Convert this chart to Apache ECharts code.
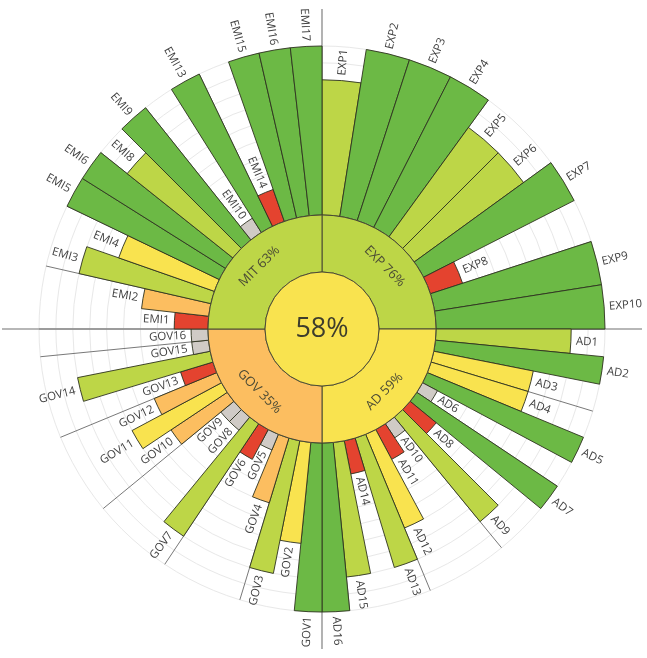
<!DOCTYPE html>
<html>
<head>
<meta charset="utf-8">
<script src="https://cdn.jsdelivr.net/npm/echarts@6/dist/echarts.min.js"></script>
<style>
html, body { margin: 0; padding: 0; background: #fff; }
#chart { width: 647px; height: 658px; }
</style>
</head>
<body>
<div id="chart"></div>
<script>
// scores per indicator, grouped by quadrant (clockwise from the top)
var expNames = ['EXP1', 'EXP2', 'EXP3', 'EXP4', 'EXP5', 'EXP6', 'EXP7', 'EXP8', 'EXP9', 'EXP10'];
var expValues = [80, 100, 100, 100, 80, 80, 100, 20, 100, 100];

var adNames = ['AD1', 'AD2', 'AD3', 'AD4', 'AD5', 'AD6', 'AD7', 'AD8', 'AD9', 'AD10', 'AD11', 'AD12', 'AD13', 'AD14', 'AD15', 'AD16'];
var adValues = [80, 100, 60, 60, 100, 10, 100, 20, 80, 10, 20, 60, 80, 20, 80, 100];

var govNames = ['GOV1', 'GOV2', 'GOV3', 'GOV4', 'GOV5', 'GOV6', 'GOV7', 'GOV8', 'GOV9', 'GOV10', 'GOV11', 'GOV12', 'GOV13', 'GOV14', 'GOV15', 'GOV16'];
var govValues = [100, 60, 80, 40, 10, 20, 80, 10, 10, 40, 60, 40, 20, 80, 10, 10];

var emiNames = ['EMI1', 'EMI2', 'EMI3', 'EMI4', 'EMI5', 'EMI6', 'EMI8', 'EMI9', 'EMI10', 'EMI13', 'EMI14', 'EMI15', 'EMI16', 'EMI17'];
var emiValues = [20, 40, 80, 60, 100, 100, 80, 100, 10, 100, 20, 100, 100, 100];

var quadNames = ['EXP', 'AD', 'GOV', 'MIT'];
var quadScores = [76, 59, 35, 63];
var totalScore = 58;

// colour per score level
var levelValues = [100, 80, 60, 40, 20, 10];
var levelColors = ['#6cb945', '#bdd647', '#f9e34f', '#fcbe60', '#e4432f', '#d0cbc6'];
var quadColors = ['#bdd647', '#f9e34f', '#fcbe60', '#bdd647'];

var CX = 322, CY = 329;
var textColor = '#3f3f3f';
var fontName = '"Open Sans", "Noto Sans", sans-serif';

function levelColor(v) {
    var i = levelValues.indexOf(v);
    return i < 0 ? '#ccc' : levelColors[i];
}

var groups = [
    { names: expNames, values: expValues, start: 90 },
    { names: adNames, values: adValues, start: 0 },
    { names: govNames, values: govValues, start: 270 },
    { names: emiNames, values: emiValues, start: 180 }
];

var polar = [], angleAxis = [], radiusAxis = [], series = [];

groups.forEach(function (g, i) {
    polar.push({ center: [CX, CY], radius: [114, 283] });
    angleAxis.push({
        polarIndex: i,
        type: 'category',
        data: g.names,
        startAngle: g.start,
        endAngle: g.start - 90,
        clockwise: true,
        boundaryGap: true,
        axisLine: { show: false },
        axisTick: { show: false },
        axisLabel: { show: false },
        splitLine: { show: true, lineStyle: { color: '#555', width: 0.8 } }
    });
    radiusAxis.push({
        polarIndex: i,
        type: 'value',
        min: 0,
        max: 100,
        interval: 10,
        axisLine: { show: false },
        axisTick: { show: false },
        axisLabel: { show: false },
        splitLine: { show: true, lineStyle: { color: '#e8e8e8', width: 1 } }
    });
    series.push({
        type: 'bar',
        coordinateSystem: 'polar',
        polarIndex: i,
        data: g.values,
        barCategoryGap: '0%',
        silent: true,
        itemStyle: {
            color: function (p) { return levelColor(p.value); },
            borderColor: '#2f3320',
            borderWidth: 0.9
        }
    });
    series.push({
        type: 'custom',
        coordinateSystem: 'polar',
        polarIndex: i,
        silent: true,
        z: 5,
        data: g.values.map(function (v, k) { return [v, k]; }),
        renderItem: function (params, api) {
            var cs = params.coordSys;
            var k = api.value(1);
            var pt = api.coord([api.value(0), k]);
            var dx = pt[0] - cs.cx, dy = pt[1] - cs.cy;
            var len = Math.sqrt(dx * dx + dy * dy);
            var x = pt[0] + dx / len * 5, y = pt[1] + dy / len * 5;
            var ang = Math.atan2(-dy, dx);
            var right = dx >= 0;
            return {
                type: 'text',
                x: x,
                y: y,
                rotation: right ? ang : ang - Math.PI,
                style: {
                    text: g.names[k],
                    align: right ? 'left' : 'right',
                    verticalAlign: 'middle',
                    fill: textColor,
                    font: '11.5px ' + fontName
                }
            };
        }
    });
});

// cross lines splitting the quadrants
polar.push({ center: [CX, CY], radius: [0, 320] });
angleAxis.push({
    polarIndex: 4,
    type: 'value',
    min: 0,
    max: 360,
    interval: 90,
    startAngle: 90,
    axisLine: { show: false },
    axisTick: { show: false },
    axisLabel: { show: false },
    splitLine: { show: true, lineStyle: { color: '#a0a0a0', width: 1.6 } }
});
radiusAxis.push({
    polarIndex: 4,
    type: 'value',
    axisLine: { show: false },
    axisTick: { show: false },
    axisLabel: { show: false },
    splitLine: { show: false }
});

// quadrant ring
series.push({
    type: 'pie',
    center: [CX, CY],
    radius: [57, 114],
    startAngle: 90,
    clockwise: true,
    silent: true,
    z: 4,
    data: quadNames.map(function (n, i) {
        return { name: n, value: 1, itemStyle: { color: quadColors[i] } };
    }),
    itemStyle: { borderColor: '#4a4a35', borderWidth: 1 },
    label: {
        show: true,
        position: 'inside',
        rotate: 'tangential',
        color: '#4a4a35',
        fontSize: 13,
        fontFamily: fontName,
        formatter: function (p) { return p.name + ' ' + quadScores[p.dataIndex] + '%'; }
    },
    labelLine: { show: false }
});

// overall score in the middle
series.push({
    type: 'pie',
    center: [CX, CY],
    radius: [0, 57],
    silent: true,
    z: 4,
    data: [{ name: 'total', value: totalScore }],
    itemStyle: { color: '#f9e34f', borderColor: '#4a4a35', borderWidth: 1 },
    label: {
        show: true,
        position: 'center',
        color: '#3d3d2c',
        fontSize: 27,
        fontFamily: fontName,
        formatter: function (p) { return p.value + '%'; }
    },
    labelLine: { show: false }
});

var chart = echarts.init(document.getElementById('chart'));
chart.setOption({
    animation: false,
    backgroundColor: '#fff',
    polar: polar,
    angleAxis: angleAxis,
    radiusAxis: radiusAxis,
    series: series
});
</script>
</body>
</html>
